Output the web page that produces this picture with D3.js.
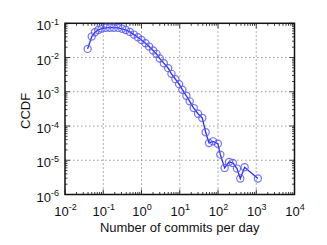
<!DOCTYPE html>
<html>
<head>
<meta charset="utf-8">
<script src="https://cdn.jsdelivr.net/npm/d3@7"></script>
<style>
  body { margin: 0; background: #fff; }
  text { font-family: "Liberation Sans", Arial, sans-serif; fill: #111; }
</style>
</head>
<body>
<div id="chart"></div>
<script>
// Data
const commitsPerDay = [0.039, 0.050, 0.0607, 0.0741, 0.0906, 0.117, 0.149, 0.190, 0.246, 0.313,
  0.390, 0.497, 0.631, 0.802, 1.0, 1.27, 1.58, 2.01, 2.46, 3.01,
  3.83, 4.97, 6.07, 7.71, 9.62, 11.7, 14.9, 18.2, 23.2, 30.1,
  38.9, 47.6, 58.2, 74.1, 99, 115, 149, 194, 245, 313,
  383, 497, 1104];
const ccdf = [0.0179, 0.0409, 0.0547, 0.0640, 0.0700, 0.0740, 0.0745, 0.0745, 0.0735, 0.0690,
  0.0635, 0.0560, 0.0468, 0.0391, 0.0327, 0.0261, 0.0209, 0.0160, 0.0128, 0.00933,
  0.00684, 0.00490, 0.00334, 0.00234, 0.00167, 0.00115, 7.64e-4, 5.25e-4, 3.34e-4, 2.29e-4,
  1.71e-4, 6.55e-5, 3.2e-5, 3.57e-5, 3.05e-5, 1.46e-5, 5.98e-6, 8.9e-6, 8.36e-6, 5.71e-6,
  2.92e-6, 6.25e-6, 2.92e-6];
const xExponents = [-2, -1, 0, 1, 2, 3, 4];
const yExponents = [-6, -5, -4, -3, -2, -1];

const data = commitsPerDay.map((x, i) => ({ x: x, y: ccdf[i] }));

const width = 327, height = 245;
const margin = { left: 65, right: 32.5, top: 23.3, bottom: 50.5 };

const svg = d3.select("#chart").append("svg")
    .attr("width", width)
    .attr("height", height);

const x = d3.scaleLog().domain([1e-2, 1e4]).range([margin.left, width - margin.right]);
const y = d3.scaleLog().domain([1e-6, 1e-1]).range([height - margin.bottom, margin.top]);

const x0 = x.range()[0], x1 = x.range()[1];
const y0 = y.range()[0], y1 = y.range()[1];

// Grid (dotted)
const grid = svg.append("g").attr("stroke", "#8a8a8a").attr("stroke-width", 0.9).attr("stroke-dasharray", "1.5,2.5");
grid.selectAll("line.gx")
    .data(xExponents.slice(1, -1))
    .enter().append("line")
    .attr("x1", d => x(Math.pow(10, d))).attr("x2", d => x(Math.pow(10, d)))
    .attr("y1", y1).attr("y2", y0);
grid.selectAll("line.gy")
    .data(yExponents.slice(1, -1))
    .enter().append("line")
    .attr("x1", x0).attr("x2", x1)
    .attr("y1", d => y(Math.pow(10, d))).attr("y2", d => y(Math.pow(10, d)));

// Ticks, inward on all sides
const xMinor = [], yMinor = [];
for (let e = -2; e < 4; e++) for (let m = 2; m < 10; m++) xMinor.push(m * Math.pow(10, e));
for (let e = -6; e < -1; e++) for (let m = 2; m < 10; m++) yMinor.push(m * Math.pow(10, e));

const ticks = svg.append("g").attr("stroke", "#111").attr("stroke-width", 0.8);
function xTicks(vals, len) {
  vals.forEach(v => {
    ticks.append("line").attr("x1", x(v)).attr("x2", x(v)).attr("y1", y0).attr("y2", y0 - len);
    ticks.append("line").attr("x1", x(v)).attr("x2", x(v)).attr("y1", y1).attr("y2", y1 + len);
  });
}
function yTicks(vals, len) {
  vals.forEach(v => {
    ticks.append("line").attr("y1", y(v)).attr("y2", y(v)).attr("x1", x0).attr("x2", x0 + len);
    ticks.append("line").attr("y1", y(v)).attr("y2", y(v)).attr("x1", x1).attr("x2", x1 - len);
  });
}
xTicks(xMinor, 2.5);
yTicks(yMinor, 2.5);
xTicks(xExponents.map(e => Math.pow(10, e)), 5);
yTicks(yExponents.map(e => Math.pow(10, e)), 5);

// Frame
svg.append("rect")
    .attr("x", x0).attr("y", y1)
    .attr("width", x1 - x0).attr("height", y0 - y1)
    .attr("fill", "none").attr("stroke", "#111").attr("stroke-width", 1.5);

// Tick labels
function powLabel(sel, e) {
  sel.append("tspan").text("10");
  sel.append("tspan").attr("dy", -5.5).attr("font-size", 9).text(e);
}
svg.selectAll("text.xl")
    .data(xExponents)
    .enter().append("text")
    .attr("x", d => x(Math.pow(10, d)) + 0.5)
    .attr("y", height - margin.bottom + 21)
    .attr("text-anchor", "middle")
    .attr("font-size", 13)
    .each(function(d) { powLabel(d3.select(this), d); });

svg.selectAll("text.yl")
    .data(yExponents)
    .enter().append("text")
    .attr("x", margin.left - 6)
    .attr("y", d => y(Math.pow(10, d)) + 7)
    .attr("text-anchor", "end")
    .attr("font-size", 13)
    .each(function(d) { powLabel(d3.select(this), d); });

// Axis titles
svg.append("text")
    .attr("x", (x0 + x1) / 2)
    .attr("y", 232)
    .attr("text-anchor", "middle")
    .attr("font-size", 13)
    .text("Number of commits per day");

svg.append("text")
    .attr("transform", `translate(30,${(y0 + y1) / 2 + 2}) rotate(-90)`)
    .attr("text-anchor", "middle")
    .attr("font-size", 13)
    .text("CCDF");

// Series
const line = d3.line().x(d => x(d.x)).y(d => y(d.y));
svg.append("path")
    .datum(data)
    .attr("d", line)
    .attr("fill", "none")
    .attr("stroke", "#2a2aff")
    .attr("stroke-width", 1.3);

svg.append("g")
    .selectAll("circle")
    .data(data)
    .enter().append("circle")
    .attr("cx", d => x(d.x))
    .attr("cy", d => y(d.y))
    .attr("r", 3.6)
    .attr("fill", "none")
    .attr("stroke", "#5a5aff")
    .attr("stroke-opacity", 0.85)
    .attr("stroke-width", 1.2);
</script>
</body>
</html>
